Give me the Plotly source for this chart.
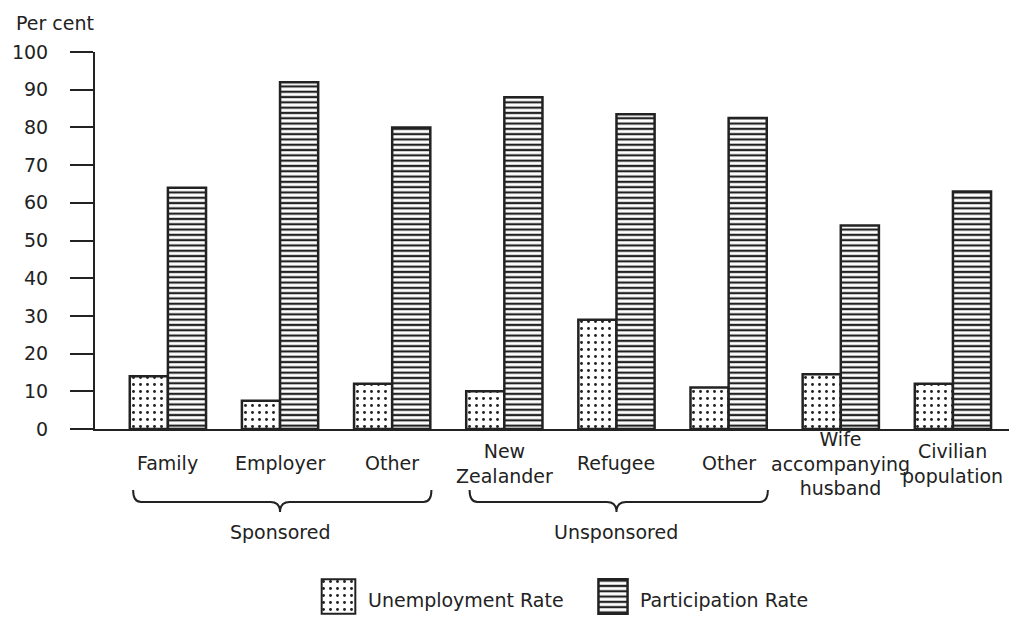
import plotly.graph_objects as go

# ---- data ----
categories = ["Family", "Employer", "Other", "New<br>Zealander", "Refugee", "Other",
              "Wife<br>accompanying<br>husband", "Civilian<br>population"]
unemployment_rate = [14, 7.5, 12, 10, 29, 11, 14.5, 12]
participation_rate = [64, 92, 80, 88, 83.5, 82.5, 54, 63]
groups = ["Sponsored", "Unsponsored"]
group_members = [[0, 1, 2], [3, 4, 5]]
y_ticks = list(range(0, 101, 10))
series_names = ["Unemployment Rate", "Participation Rate"]

# ---- layout constants (page pixels; the page body adds an 8px offset) ----
OFF = 8
W, H = 1028, 618
ML = 95 - OFF
MT = 52 - OFF
MR = W - (1009 - OFF)
MB = 0
Y0_PX = 429  # page pixel row of y=0
FONT = "DejaVu Sans"
INK = "#222222"
FS = 19


def px_x(p):
    return (p - OFF - ML) / (W - ML - MR)


def px_y(p):
    return (H - MB - (p - OFF)) / (H - MT - MB)


xs = list(range(len(categories)))

dot_pattern = dict(shape=".", fgcolor=INK, bgcolor="white", size=7, solidity=0.14, fillmode="replace")
line_pattern = dict(shape="-", fgcolor=INK, bgcolor="white", size=5.3, solidity=0.42, fillmode="replace")
bar_line = dict(color=INK, width=2.5)

fig = go.Figure()
fig.add_trace(go.Bar(x=xs, y=unemployment_rate, name=series_names[0],
                     marker=dict(color="white", pattern=dot_pattern, line=bar_line),
                     showlegend=False))
fig.add_trace(go.Bar(x=xs, y=participation_rate, name=series_names[1],
                     marker=dict(color="white", pattern=line_pattern, line=bar_line),
                     showlegend=False))

# legend swatches as tiny subplots
fig.add_trace(go.Bar(x=[0], y=[1], width=[1], xaxis="x2", yaxis="y2", showlegend=False,
                     marker=dict(color="white", pattern=dot_pattern, line=dict(color=INK, width=2)),
                     hoverinfo="skip"))
fig.add_trace(go.Bar(x=[0], y=[1], width=[1], xaxis="x3", yaxis="y3", showlegend=False,
                     marker=dict(color="white", pattern=line_pattern, line=dict(color=INK, width=2.5)),
                     hoverinfo="skip"))

annotations = []
# category labels
for i, c in enumerate(categories):
    annotations.append(dict(x=i, y=px_y(463), xref="x", yref="paper", text=c, showarrow=False,
                            xanchor="center", yanchor="middle", align="center",
                            font=dict(family=FONT, size=FS, color=INK)))

shapes = []
unit = (W - ML - MR) / 8.15
for g, members in zip(groups, group_members):
    L = members[0] - 0.31
    R = members[-1] + 0.35
    C = (members[0] + members[-1]) / 2
    yt, ym, yb = px_y(490), px_y(502), px_y(512)
    d = 8 / unit
    path = (f"M {L},{yt} Q {L},{ym} {L + d},{ym} L {C - d * 1.2},{ym} "
            f"Q {C},{ym} {C},{yb} Q {C},{ym} {C + d * 1.2},{ym} "
            f"L {R - d},{ym} Q {R},{ym} {R},{yt}")
    shapes.append(dict(type="path", path=path, xref="x", yref="paper",
                       line=dict(color=INK, width=2)))
    annotations.append(dict(x=C, y=px_y(532), xref="x", yref="paper", text=g, showarrow=False,
                            xanchor="center", yanchor="middle",
                            font=dict(family=FONT, size=FS, color=INK)))

# y title
annotations.append(dict(x=px_x(14), y=px_y(23), xref="paper", yref="paper", text="Per cent",
                        showarrow=False, xanchor="left", yanchor="middle",
                        font=dict(family=FONT, size=FS, color=INK)))
# legend texts
annotations.append(dict(x=px_x(366), y=px_y(600), xref="paper", yref="paper", text=series_names[0],
                        showarrow=False, xanchor="left", yanchor="middle",
                        font=dict(family=FONT, size=FS, color=INK)))
annotations.append(dict(x=px_x(638), y=px_y(600), xref="paper", yref="paper", text=series_names[1],
                        showarrow=False, xanchor="left", yanchor="middle",
                        font=dict(family=FONT, size=FS, color=INK)))

hidden = dict(visible=False, fixedrange=True)

fig.update_layout(
    width=W, height=H,
    margin=dict(l=ML, r=MR, t=MT, b=MB, autoexpand=False),
    paper_bgcolor="white", plot_bgcolor="white",
    barmode="group", bargap=0.32, bargroupgap=0,
    xaxis=dict(range=[-0.65, 7.5], showticklabels=False, ticks="", showgrid=False, zeroline=False,
               showline=True, linecolor=INK, linewidth=2, domain=[0, 1]),
    yaxis=dict(range=[0, 100], tickvals=y_ticks, ticks="outside", ticklen=23, tickwidth=2,
               tickcolor=INK, showgrid=False, zeroline=False, showline=True, linecolor=INK,
               linewidth=2, tickfont=dict(family=FONT, size=19, color=INK),
               ticklabelstandoff=18, domain=[px_y(Y0_PX), 1]),
    xaxis2=dict(hidden, domain=[px_x(320), px_x(357)], range=[-0.55, 0.55], anchor="y2"),
    yaxis2=dict(hidden, domain=[px_y(615), px_y(578)], range=[-0.04, 1.04], anchor="x2"),
    xaxis3=dict(hidden, domain=[px_x(597), px_x(629)], range=[-0.55, 0.55], anchor="y3"),
    yaxis3=dict(hidden, domain=[px_y(615), px_y(578)], range=[-0.04, 1.04], anchor="x3"),
    shapes=shapes,
    annotations=annotations,
    font=dict(family=FONT, size=FS, color=INK),
)

fig.write_html("out.html")
